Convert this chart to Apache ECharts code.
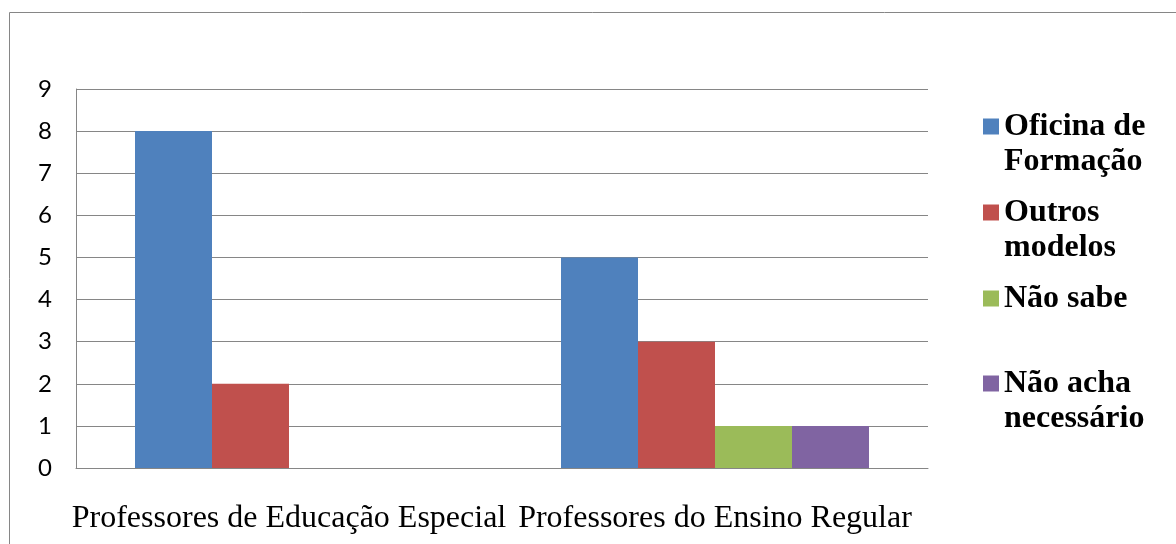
<!DOCTYPE html>
<html>
<head>
<meta charset="UTF-8">
<title>Formação</title>
<style>
  body { margin: 0; background: #fff; }
</style>
</head>
<body>
<div id="main" style="width: 1176px;height:544px;"></div>
<script src="https://cdn.jsdelivr.net/npm/echarts@6/dist/echarts.min.js"></script>
<script type="text/javascript">
// dados
var categories = ['Professores de Educação Especial', 'Professores do Ensino Regular'];
var seriesNames = ['Oficina de Formação', 'Outros modelos', 'Não sabe', 'Não acha necessário'];
var legendLines = ['Oficina de\nFormação', 'Outros\nmodelos', 'Não sabe', 'Não acha\nnecessário'];
var oficina = [8, 5];
var outros = [2, 3];
var naoSabe = [0, 1];
var naoAcha = [0, 1];
var colors = ['#4F81BD', '#C0504D', '#9BBB59', '#8064A2'];
var yTicks = [0, 1, 2, 3, 4, 5, 6, 7, 8, 9];

var myChart = echarts.init(document.getElementById('main'));

var values = [oficina, outros, naoSabe, naoAcha];
var legendTops = [74, 160, 281, 331];

// uma legenda por item, para acertar a posição vertical de cada uma
var legends = seriesNames.map(function (name, i) {
  var twoLines = legendLines[i].indexOf('\n') >= 0;
  // linha vazia em cima: o quadrado fica alinhado com a primeira linha
  var txt = twoLines ? '\n' + legendLines[i] : legendLines[i];
  return {
    data: [name],
    orient: 'vertical',
    left: 983,
    top: legendTops[i],
    padding: 0,
    itemWidth: 16,
    itemHeight: 16,
    icon: 'rect',
    selectedMode: false,
    formatter: function () { return txt; },
    textStyle: {
      fontFamily: 'Liberation Serif',
      fontWeight: 'bold',
      fontSize: 32,
      lineHeight: 35,
      color: '#000'
    }
  };
});

var option = {
  animation: false,
  color: colors,
  legend: legends,
  graphic: [
    { type: 'line', shape: { x1: 9.5, y1: 12.5, x2: 1176, y2: 12.5 }, style: { stroke: '#868686', lineWidth: 1 } },
    { type: 'line', shape: { x1: 9.5, y1: 12.5, x2: 9.5, y2: 544 }, style: { stroke: '#868686', lineWidth: 1 } }
  ],
  grid: { left: 76, right: 248, top: 89, bottom: 76 },
  xAxis: {
    type: 'category',
    data: categories,
    axisLine: { lineStyle: { color: '#868686' } },
    axisTick: { show: false },
    axisLabel: {
      interval: 0,
      margin: 35,
      color: '#000',
      fontFamily: 'Liberation Serif',
      fontSize: 32
    }
  },
  yAxis: {
    type: 'value',
    min: yTicks[0],
    max: yTicks[yTicks.length - 1],
    interval: 1,
    axisLine: { show: true, lineStyle: { color: '#868686' } },
    axisTick: { show: false },
    splitLine: { lineStyle: { color: '#868686' } },
    axisLabel: {
      margin: 24,
      color: '#000',
      fontFamily: 'Lato',
      fontSize: 24
    }
  },
  series: seriesNames.map(function (name, i) {
    return {
      name: name,
      type: 'bar',
      barWidth: 77,
      barGap: '0%',
      data: values[i]
    };
  })
};

myChart.setOption(option);
</script>
</body>
</html>
